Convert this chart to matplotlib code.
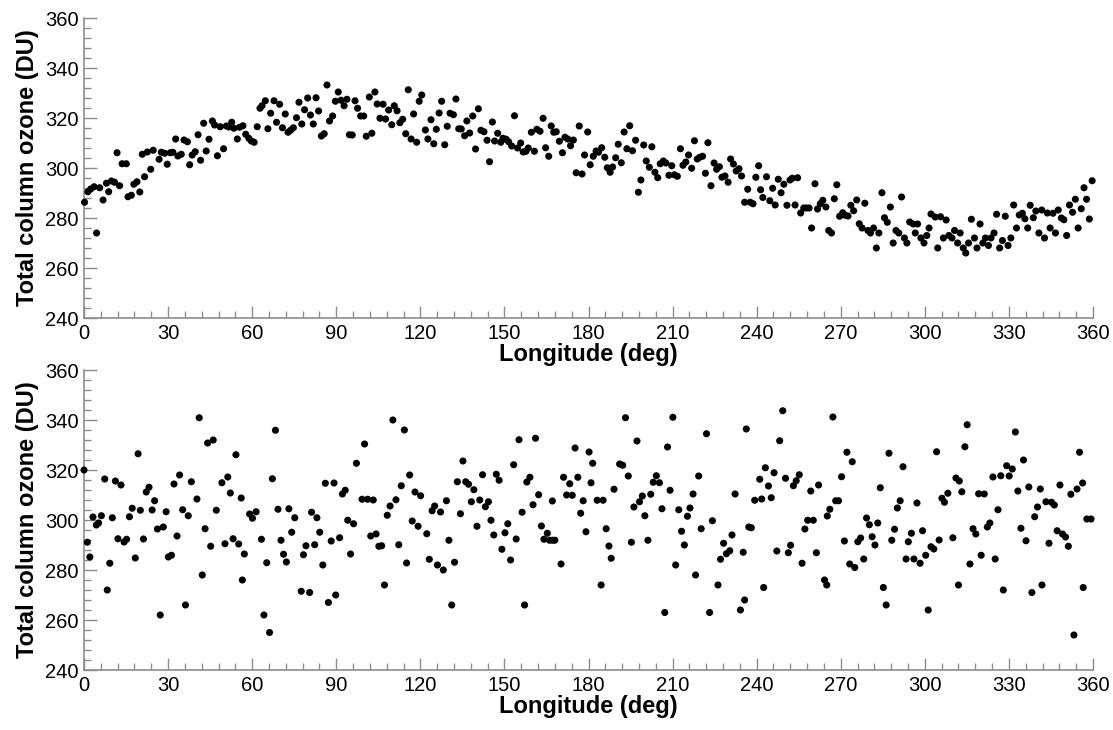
import matplotlib
matplotlib.use("Agg")
import matplotlib.pyplot as plt
from matplotlib.ticker import MultipleLocator

# ---------------- data ----------------
top_lon = [0.2,1.4,2.4,3.6,4.5,5.6,6.8,8.0,8.8,9.8,10.9,11.8,12.7,13.6,15.1,15.7,16.9,17.8,18.9,19.9,
           20.8,21.6,22.6,23.8,24.7,26.8,27.6,28.8,29.7,30.8,31.7,32.7,33.5,34.7,35.7,36.9,37.7,38.6,39.7,
           40.7,41.6,42.7,43.6,44.6,45.8,46.6,47.6,48.6,49.8,50.8,51.7,52.7,53.5,54.7,55.5,56.7,57.7,58.8,59.7,
           60.7,61.8,62.8,63.5,64.7,65.6,66.6,67.8,68.7,69.8,70.8,71.8,72.8,73.7,74.7,75.8,76.7,77.7,78.7,79.8,
           80.8,81.8,82.8,83.7,84.7,85.7,86.7,87.6,88.7,89.7,90.7,91.7,92.8,93.8,94.7,95.7,96.7,97.6,98.7,99.8,
           100.7,101.8,102.7,103.8,104.6,105.6,106.7,107.6,108.7,109.8,110.7,111.7,112.7,113.7,114.8,115.7,116.7,117.6,118.7,119.6,
           120.5,121.8,122.7,123.8,124.8,125.7,126.7,127.6,128.7,129.6,130.6,131.8,132.7,133.7,134.6,135.8,136.6,137.6,138.7,139.7,
           140.7,141.6,142.7,143.8,144.7,145.7,146.5,147.6,148.7,149.5,150.6,151.5,152.6,153.6,154.7,155.8,156.7,157.7,158.5,159.6,
           160.7,161.6,162.7,163.8,164.7,165.8,166.7,167.6,168.5,169.6,170.7,171.6,172.6,173.6,174.6,175.6,176.7,177.7,178.6,179.7,
           180.6,181.7,182.7,183.6,184.7,185.8,186.7,187.7,188.6,189.7,190.6,191.7,192.7,193.7,194.7,195.7,196.8,197.8,198.7,199.7,
           200.6,201.7,202.6,203.7,204.7,205.6,206.7,207.6,208.7,209.7,210.6,211.7,212.8,213.7,214.7,215.7,216.8,217.8,218.8,219.7,
           220.7,221.7,222.6,223.7,224.8,225.7,226.7,227.6,228.7,229.8,230.7,231.7,232.7,233.7,234.6,235.7,236.8,237.7,238.7,239.7,
           240.7,241.4,242.2,243.5,244.7,245.7,246.6,247.7,248.7,249.7,250.8,251.9,252.7,253.7,254.6,255.7,256.8,257.7,258.7,259.6,
           260.8,261.7,262.7,263.6,264.7,265.7,266.7,267.7,268.6,269.6,270.7,271.6,272.6,273.6,274.6,275.7,276.6,277.6,278.6,279.7,
           280.6,281.7,282.7,283.6,284.7,285.6,286.6,287.7,288.7,289.7,290.7,291.7,292.7,293.6,294.6,295.9,296.6,297.4,298.6,299.7,
           300.7,301.5,302.2,303.7,304.6,305.6,306.6,307.6,308.6,309.7,310.6,311.7,312.6,313.7,314.6,315.6,316.6,317.7,318.6,319.7,
           320.7,321.6,322.7,323.6,324.7,325.6,326.7,327.7,328.7,329.7,330.7,331.7,332.7,333.7,334.8,335.7,336.7,337.6,338.7,339.6,
           340.7,341.7,342.7,343.7,344.7,345.7,346.6,347.6,348.7,349.6,350.6,351.6,352.7,353.7,354.7,355.8,356.8,357.7,358.7,359.7]
top_du = [286.3,290.5,291.6,292.5,274.0,292.1,287.2,293.9,290.5,294.8,294.3,306.1,292.9,301.7,301.7,288.5,289.1,293.5,294.5,290.4,
          305.5,296.5,306.4,299.5,307.1,303.5,306.3,305.9,301.5,306.1,306.3,311.6,304.8,305.5,311.2,310.5,301.3,305.2,306.5,
          313.3,303.1,317.9,306.8,311.5,318.8,317.2,304.9,316.5,307.7,316.8,316.4,318.3,315.9,311.6,316.3,316.9,313.5,311.9,310.8,
          310.3,316.5,323.9,324.9,326.9,315.7,321.9,326.9,318.3,325.5,316.1,321.6,314.3,315.1,316.1,320.1,326.3,317.6,323.3,328.0,
          321.2,317.6,328.1,322.8,312.8,313.7,333.2,318.8,320.8,326.7,330.4,327.1,324.9,327.5,313.3,313.2,326.9,323.9,320.8,320.8,
          312.7,328.4,313.9,330.4,325.6,319.9,325.5,319.6,323.2,317.3,324.9,322.9,318.1,319.5,313.7,331.3,311.6,321.6,310.3,326.7,
          329.2,315.2,311.6,319.3,309.7,315.5,322.0,326.7,309.3,316.7,321.9,321.3,327.6,315.7,315.6,312.9,318.8,314.0,320.8,307.6,
          323.7,315.1,314.5,311.1,302.5,318.4,310.8,313.9,310.3,311.9,311.5,310.5,308.8,320.9,308.0,310.0,306.4,306.7,308.0,314.3,
          306.7,315.5,314.7,319.9,308.1,304.7,316.8,314.3,314.5,310.7,306.1,312.3,311.6,308.9,311.2,298.1,316.8,297.6,305.2,314.4,
          301.3,304.7,306.8,306.3,308.1,304.3,300.1,298.3,300.4,304.1,309.5,302.1,314.4,307.7,316.9,306.9,311.1,290.3,295.2,309.2,
          302.8,300.3,308.5,298.3,296.1,301.7,302.8,302.0,297.1,300.9,297.3,296.7,307.7,301.1,302.4,305.2,299.9,310.9,303.6,304.3,
          304.7,297.9,310.1,292.9,302.0,299.5,300.5,296.3,296.8,294.3,303.6,301.6,298.8,299.7,296.8,286.3,291.5,286.3,285.7,296.3,
          300.9,291.3,288.2,296.5,286.9,291.9,285.2,295.5,290.1,293.5,285.1,295.2,295.9,285.2,296.1,282.0,284.0,284.0,284.0,276.0,
          293.7,283.6,285.7,287.1,284.4,275.0,274.0,287.7,293.3,280.7,282.1,281.1,280.8,285.1,282.9,287.2,277.7,276.0,285.9,275.0,
          274.0,276.0,268.0,274.0,290.1,280.1,278.3,284.4,270.0,275.0,274.0,288.4,272.0,270.0,278.4,277.6,274.0,277.6,272.0,270.0,
          273.0,276.0,281.6,280.4,268.0,280.5,272.0,279.2,273.0,272.0,275.0,270.0,274.0,268.0,266.0,270.0,279.5,272.0,268.0,277.6,
          270.0,272.0,269.0,272.0,274.0,281.5,268.0,271.0,280.7,269.0,272.0,285.2,276.0,281.2,281.9,279.7,276.0,285.1,280.1,282.8,
          274.0,283.2,272.0,282.0,276.0,281.9,274.0,283.2,280.0,279.3,273.0,285.2,282.3,287.5,276.0,283.7,292.1,287.5,279.6,294.9]

bot_lon = [0.0,1.2,2.1,3.2,4.4,5.2,6.2,7.4,8.3,9.2,10.1,11.2,12.1,13.2,14.3,15.2,16.2,17.2,18.3,19.3,
           20.1,21.2,22.2,23.2,24.3,25.2,26.2,27.2,28.3,29.3,30.1,31.2,32.1,33.2,34.1,35.2,36.2,37.2,38.3,40.3,
           41.1,42.2,43.2,44.1,45.2,46.1,47.2,49.2,50.3,51.3,52.2,53.2,54.2,55.2,56.1,56.5,57.2,59.1,60.1,61.4,63.3,
           64.2,65.2,66.2,67.2,68.3,69.2,70.3,71.2,72.2,73.1,74.1,75.2,77.5,78.3,79.2,80.5,81.2,82.3,83.1,84.1,85.2,86.1,
           87.2,88.2,89.2,89.8,91.2,92.2,93.2,94.1,95.1,96.2,97.2,99.2,100.1,101.2,102.3,103.2,104.2,105.2,106.2,107.2,108.2,
           109.2,110.2,111.3,112.3,113.2,114.3,115.1,116.2,117.1,118.1,119.2,120.1,122.3,123.2,124.2,125.1,126.1,127.2,128.2,129.3,
           130.2,131.2,132.2,133.2,134.3,135.2,136.2,137.2,138.2,139.1,140.2,141.2,142.2,143.2,144.3,145.2,146.2,147.1,148.1,149.1,
           150.2,151.2,152.2,153.3,154.2,155.2,156.3,157.2,158.0,159.1,160.2,161.1,162.2,163.2,164.1,165.3,166.1,167.1,167.2,168.0,
           170.2,171.1,172.2,173.3,174.2,175.2,176.2,177.2,178.1,179.1,180.2,180.9,181.5,183.1,184.5,185.2,186.3,187.3,188.1,189.1,191.1,
           192.2,193.2,194.2,195.3,196.2,197.3,198.2,199.2,200.1,201.2,202.2,203.1,204.2,205.3,206.2,207.2,208.2,209.1,210.1,211.1,
           212.2,213.2,214.2,215.3,216.2,217.3,218.2,219.3,220.2,222.1,223.2,224.2,226.2,227.1,228.2,229.2,230.4,231.2,232.3,234.2,
           235.2,235.7,236.3,237.2,238.1,239.3,241.1,241.8,242.5,243.1,244.2,245.2,246.2,247.2,248.2,249.3,250.3,251.3,252.1,253.1,254.1,255.2,
           256.2,257.2,258.2,259.3,260.2,261.3,262.1,264.2,265.0,265.2,266.1,267.2,268.2,269.2,270.3,271.3,272.2,273.2,274.1,275.0,276.1,
           277.1,278.2,279.2,280.2,281.2,282.2,283.2,284.1,285.2,286.2,287.2,288.2,289.2,290.2,291.2,292.2,293.3,294.1,295.2,296.1,
           297.2,298.3,299.2,300.3,301.2,302.2,303.2,304.2,305.1,306.1,307.0,308.2,310.0,311.1,312.0,312.3,313.2,314.3,315.1,316.1,317.2,
           318.2,319.2,320.1,321.2,322.3,323.2,324.3,325.1,326.1,327.1,328.0,329.2,330.1,331.2,332.3,333.2,334.3,335.2,336.1,337.1,338.2,
           339.2,340.2,341.2,341.8,343.2,344.3,345.2,346.2,347.2,348.2,349.1,350.2,351.2,352.1,353.2,354.3,355.2,356.3,356.5,357.8,359.3]
bot_du = [320.0,291.1,285.2,301.2,298.0,298.8,301.7,316.4,272.0,282.7,300.9,315.6,292.5,314.0,291.2,292.3,301.3,304.7,284.8,326.5,
          303.9,292.4,311.2,313.1,304.0,307.7,296.4,262.0,297.2,303.3,285.2,285.9,314.4,293.6,318.0,304.1,266.0,301.7,315.3,308.4,
          340.9,278.0,296.5,330.8,289.5,332.0,303.9,314.9,290.5,317.2,310.8,292.5,326.1,290.4,308.8,276.0,286.4,302.4,300.7,303.3,292.3,
          262.0,282.9,255.0,316.5,335.9,304.3,291.9,286.3,283.2,304.5,295.1,300.9,271.5,286.1,289.7,271.0,303.1,290.1,300.9,295.1,282.0,314.7,
          267.0,291.6,314.8,270.0,292.9,310.4,311.9,299.9,286.4,298.5,322.7,308.3,330.4,308.3,293.6,308.0,294.4,289.5,289.7,274.0,301.9,
          305.6,340.0,308.1,290.1,313.7,336.0,282.8,318.0,299.6,311.2,297.5,309.7,294.5,284.3,303.7,305.6,282.0,303.2,280.0,307.7,
          291.9,266.0,283.1,315.3,302.5,323.6,315.3,314.3,307.3,312.1,297.5,308.0,318.1,305.3,307.3,299.9,294.0,318.3,315.9,288.3,
          294.9,298.5,284.0,322.1,292.4,332.1,303.1,266.0,315.2,317.1,306.1,332.7,310.1,297.6,292.3,294.7,291.9,307.6,291.9,291.9,
          282.4,317.1,310.0,314.5,309.9,328.8,317.1,302.7,307.7,295.3,327.2,314.9,322.7,307.9,274.0,307.9,296.5,289.6,284.7,312.3,322.4,
          321.9,340.9,317.6,291.1,305.2,331.6,307.3,309.6,301.7,291.9,310.3,315.1,317.7,314.9,304.5,263.0,329.2,311.9,341.1,282.0,
          304.1,295.5,290.0,301.5,304.8,310.4,278.0,317.6,296.5,334.5,263.0,299.7,274.0,284.3,290.7,286.5,287.7,294.0,310.4,264.0,
          287.1,268.0,336.4,297.2,296.9,307.9,316.3,308.4,273.0,320.9,313.6,308.9,318.9,287.6,331.7,343.7,316.7,286.9,289.9,313.7,315.7,318.1,
          282.7,296.4,299.9,311.6,299.9,286.9,314.0,276.0,274.0,301.6,304.3,341.2,307.7,307.7,317.3,291.6,327.1,282.4,323.3,281.0,291.3,
          292.8,284.4,300.8,298.1,293.3,290.0,298.8,312.9,273.0,266.0,326.7,291.9,296.3,304.8,307.7,321.3,284.4,291.3,294.7,284.4,
          306.8,282.7,295.7,285.9,264.0,289.3,288.4,327.3,292.0,308.7,307.1,310.7,292.9,316.8,274.0,315.6,311.3,329.3,338.1,282.4,296.5,
          294.4,310.5,285.9,310.4,297.2,298.8,317.2,284.4,304.1,317.7,272.0,321.7,317.6,320.4,335.2,311.6,296.7,324.0,291.7,313.2,271.0,
          301.3,305.2,312.4,274.0,307.3,290.7,307.1,306.0,295.7,314.0,294.4,293.2,289.5,310.3,254.0,312.4,327.1,314.8,273.0,300.4,300.4]

xticks = [0, 30, 60, 90, 120, 150, 180, 210, 240, 270, 300, 330, 360]
yticks = [240, 260, 280, 300, 320, 340, 360]

# ---------------- figure ----------------
plt.rcParams['font.family'] = ['Liberation Sans', 'DejaVu Sans']
W, H = 1113, 730
fig = plt.figure(figsize=(W / 100, H / 100), dpi=100)

axis_col = '#8c8c8c'

def make_axes(top_px, bottom_px):
    left_px, right_px = 84, 1093
    ax = fig.add_axes([left_px / W, 1 - bottom_px / H,
                       (right_px - left_px) / W, (bottom_px - top_px) / H])
    for s in ['top', 'right']:
        ax.spines[s].set_visible(False)
    for s in ['left', 'bottom']:
        ax.spines[s].set_color(axis_col)
        ax.spines[s].set_linewidth(1.2)
    ax.set_xlim(0, 360)
    ax.set_ylim(240, 360)
    ax.set_xticks(xticks)
    ax.set_yticks(yticks)
    ax.xaxis.set_minor_locator(MultipleLocator(6))
    ax.yaxis.set_minor_locator(MultipleLocator(4))
    ax.tick_params(which='both', direction='in', colors=axis_col,
                   labelcolor='black', labelsize=14.5, width=1.0)
    ax.tick_params(which='major', length=9, pad=4)
    ax.tick_params(which='minor', length=5)
    ax.set_xlabel('Longitude (deg)', fontsize=17, fontweight='bold', labelpad=0)
    ax.set_ylabel('Total column ozone (DU)', fontsize=17, fontweight='bold', labelpad=4)
    return ax

ax1 = make_axes(18, 318)
ax1.scatter(top_lon, top_du, s=26, c='black', edgecolors='none', clip_on=False, zorder=3)

ax2 = make_axes(370, 670)
ax2.scatter(bot_lon, bot_du, s=26, c='black', edgecolors='none', clip_on=False, zorder=3)

fig.savefig('out.png', dpi=100)
